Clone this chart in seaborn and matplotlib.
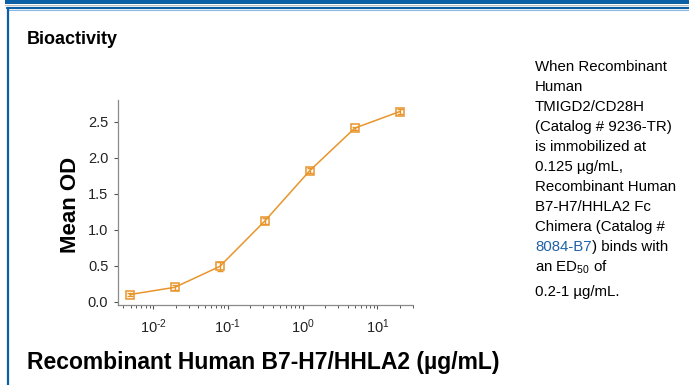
import numpy as np
import pandas as pd
import matplotlib
matplotlib.use("Agg")
import matplotlib.pyplot as plt
import seaborn as sns
from matplotlib.lines import Line2D
from matplotlib.ticker import LogLocator, NullFormatter

# B7-H7/HHLA2 concentration (ug/mL), 4-fold serial dilution
conc = [0.00488, 0.0195, 0.0781, 0.3125, 1.25, 5.0, 20.0]
mean_od = [0.10, 0.20, 0.49, 1.12, 1.82, 2.41, 2.64]
od_err = [0.02, 0.03, 0.06, 0.04, 0.03, 0.02, 0.04]

xticks = [0.01, 0.1, 1, 10]
xticklabels = [r"$10^{\text{-}2}$", r"$10^{\text{-}1}$", r"$10^{0}$", r"$10^{1}$"]
yticks = [0.0, 0.5, 1.0, 1.5, 2.0, 2.5]

note_lines = ["When Recombinant", "Human", "TMIGD2/CD28H", "(Catalog # 9236-TR)",
              "is immobilized at", "0.125 \u00b5g/mL,", "Recombinant Human",
              "B7-H7/HHLA2 Fc", "Chimera (Catalog #"]

orange = "#E8952B"
blue_link = "#1F62A8"

sns.set_style("white")
plt.rcParams["font.family"] = ["Liberation Sans", "DejaVu Sans"]
plt.rcParams["text.color"] = "black"
plt.rcParams["mathtext.fontset"] = "custom"
plt.rcParams["mathtext.rm"] = "Liberation Sans"
plt.rcParams["mathtext.it"] = "Liberation Sans"
plt.rcParams["mathtext.sf"] = "Liberation Sans"

df = pd.DataFrame({"conc": conc, "od": mean_od, "err": od_err})

fig = plt.figure(figsize=(6.89, 3.85), dpi=100)
W, H = 689.0, 385.0
ax = fig.add_axes([118 / W, 1 - 305 / H, 295 / W, 205 / H])

sns.lineplot(data=df, x="conc", y="od", ax=ax, color=orange, linewidth=1.1,
             marker="s", markersize=5.5, markerfacecolor="none",
             markeredgecolor=orange, markeredgewidth=1.1)
ax.errorbar(df["conc"], df["od"], yerr=df["err"], fmt="none", ecolor=orange,
            elinewidth=1, capsize=2.5, capthick=1)

ax.set_xscale("log")
ax.set_xlim(0.0034, 30)
ax.set_ylim(-0.045, 2.8)
ax.set_xticks(xticks)
ax.set_xticklabels(xticklabels)
ax.xaxis.set_minor_locator(LogLocator(base=10, subs=np.arange(2, 10)))
ax.xaxis.set_minor_formatter(NullFormatter())
ax.set_yticks(yticks)
ax.set_yticklabels([f"{v:.1f}" for v in yticks])
ax.set_xlabel("")
ax.set_ylabel("")
sns.despine(ax=ax)
for s in ["left", "bottom"]:
    ax.spines[s].set_color("#8a8a8a")
    ax.spines[s].set_linewidth(0.9)
ax.tick_params(axis="both", which="major", direction="out", length=3, width=0.8,
               color="#555555", labelsize=10.5, labelcolor="#222222",
               bottom=True, left=True)
ax.tick_params(axis="x", which="minor", direction="out", length=2, width=0.7,
               color="#555555", bottom=True)
ax.tick_params(axis="x", which="major", pad=6)
ax.tick_params(axis="y", which="major", pad=4)
ax.grid(False)

# frame decoration
fig.add_artist(plt.Rectangle((5 / W, 1 - 3.5 / H), 1, 3.5 / H, color="#0B5FA5",
                             transform=fig.transFigure, lw=0))
fig.add_artist(plt.Rectangle((5 / W, 1 - 6 / H), 1, 1.5 / H, color="#BDBDBD",
                             transform=fig.transFigure, lw=0))
fig.add_artist(Line2D([7 / W, 1], [1 - 8 / H, 1 - 8 / H], color="#0B5FA5",
                      lw=1.6, transform=fig.transFigure))
fig.add_artist(Line2D([7 / W, 1], [1 - 9.5 / H, 1 - 9.5 / H], color="#8DB8E2",
                      lw=0.8, transform=fig.transFigure))
fig.add_artist(Line2D([7.5 / W, 7.5 / W], [0, 1 - 8 / H], color="#0B5FA5",
                      lw=1.6, transform=fig.transFigure))

fig.text(27 / W, 1 - 39 / H, "Bioactivity", fontsize=13, fontweight="bold",
         va="center", ha="left")
fig.text(70 / W, 1 - 205 / H, "Mean OD", fontsize=16, fontweight="bold",
         rotation=90, va="center", ha="center")
fig.text(27 / W, 1 - 362 / H, "Recombinant Human B7-H7/HHLA2 (\u00b5g/mL)",
         fontsize=16.5, fontweight="bold", va="center", ha="left")

x0 = 535 / W
fs = 10.8
ys = [67, 87, 107, 127, 147, 167, 187, 207, 227]
for line, yy in zip(note_lines, ys):
    fig.text(x0, 1 - yy / H, line, fontsize=fs, va="center", ha="left")
t = fig.text(x0, 1 - 247 / H, "8084-B7", fontsize=fs, va="center", ha="left",
             color=blue_link)
ax.annotate(") binds with", xy=(1, 0), xycoords=t, va="bottom", ha="left",
            fontsize=fs, annotation_clip=False)
fig.text(x0, 1 - 267 / H, r"an ED$_{\mathsf{50}}$ of", fontsize=fs,
         va="center", ha="left")
fig.text(x0, 1 - 292 / H, "0.2-1 \u00b5g/mL.", fontsize=fs, va="center", ha="left")

fig.savefig("out.png", dpi=100)
